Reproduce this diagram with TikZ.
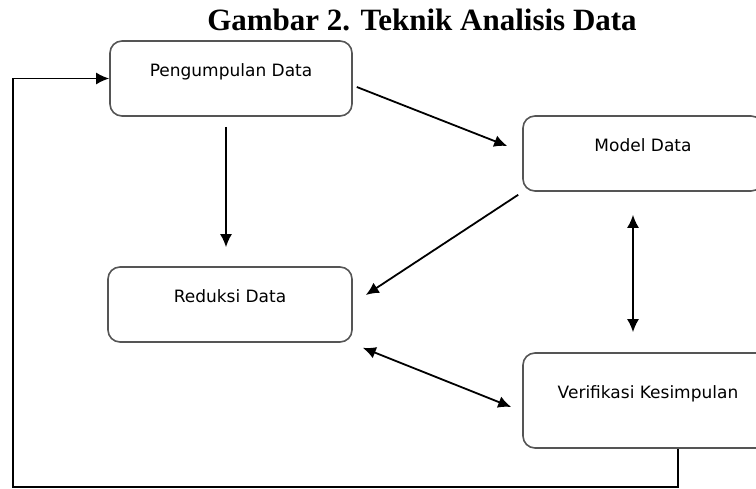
\documentclass[tikz,border=0pt]{standalone}
\usepackage{fontspec}
\setmainfont{Liberation Serif}
\newfontfamily\boxfont{DejaVu Sans}
\usetikzlibrary{arrows.meta}

\tikzset{
  stagebox/.style={draw=boxline, line width=1.6pt, rounded corners=12pt, inner sep=0pt,
    minimum height=75pt, text height=12pt, text depth=15pt,
    font=\boxfont\fontsize{17}{19}\selectfont},
  flow/.style={line width=1.8pt, -{Latex[length=13pt,width=12pt]}},
  twoway/.style={line width=1.8pt, {Latex[length=13pt,width=12pt]}-{Latex[length=13pt,width=12pt]}}
}

\begin{document}
\begin{tikzpicture}[x=1pt, y=-1pt]
    \definecolor{boxline}{HTML}{555555}
    \useasboundingbox (0,0) rectangle (756,489);

    \node[anchor=base, font=\bfseries\fontsize{31}{34}\selectfont] (title) at (422,31) {Gambar 2. Teknik Analisis Data};

    \node[stagebox, minimum width=242pt] (pengumpulan) at (231,78.5) {Pengumpulan Data};
    \node[stagebox, minimum width=240pt] (model) at (643,153.5) {Model Data};
    \node[stagebox, minimum width=244pt] (reduksi) at (230,304.5) {Reduksi Data};
    \node[stagebox, minimum width=250pt, minimum height=95pt] (verifikasi) at (648,400.5) {Verifikasi Kesimpulan};
    \coordinate (corner) at (13,487);

    \draw[flow] ([xshift=4pt,yshift=-8.5pt]pengumpulan.east) -- ([xshift=-15pt,yshift=7.5pt]model.west);
    \draw[flow] ([xshift=-5pt,yshift=-10pt]pengumpulan.south) -- ([xshift=-4pt,yshift=19pt]reduksi.north);
    \draw[flow] ([xshift=-4pt,yshift=-3pt]model.south west) -- ([xshift=13pt,yshift=9.5pt]reduksi.east);
    \draw[twoway] ([xshift=-10pt,yshift=-23pt]model.south) -- ([xshift=-15pt,yshift=20pt]verifikasi.north);
    \draw[twoway] ([xshift=10pt,yshift=-5pt]reduksi.south east) -- ([xshift=-11pt,yshift=-6.5pt]verifikasi.west);
    \draw[flow] ([xshift=30pt]verifikasi.south) |- (corner) |- (pengumpulan.west); % feedback loop
\end{tikzpicture}
\end{document}
